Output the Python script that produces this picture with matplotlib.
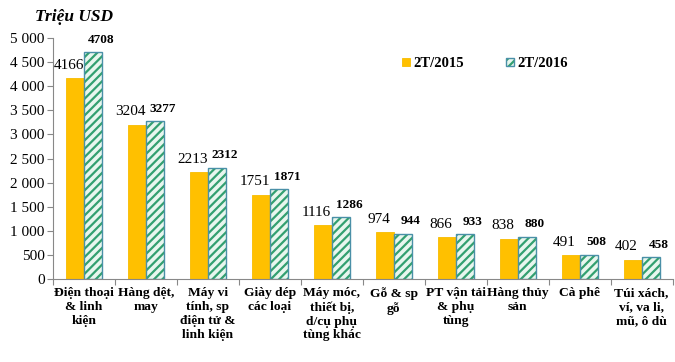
import matplotlib.pyplot as plt
import numpy as np

plt.rcParams['font.family'] = ['Liberation Serif', 'DejaVu Serif']
plt.rcParams['hatch.linewidth'] = 1.6

categories = ["Điện thoại\n& linh\nkiện", "Hàng dệt,\nmay", "Máy vi\ntính, sp\nđiện tử &\nlinh kiện",
              "Giày dép\ncác loại", "Máy móc,\nthiết bị,\nd/cụ phụ\ntùng khác", "Gỗ & sp\ngỗ",
              "PT vận tải\n& phụ\ntùng", "Hàng thủy\nsản", "Cà phê", "Túi xách,\nví, va li,\nmũ, ô dù"]
v2015 = [4166, 3204, 2213, 1751, 1116, 974, 866, 838, 491, 402]
v2016 = [4708, 3277, 2312, 1871, 1286, 944, 933, 880, 508, 458]
yticks = [0, 500, 1000, 1500, 2000, 2500, 3000, 3500, 4000, 4500, 5000]


def main():
   fig = plt.figure(figsize=(6.75, 3.62), dpi=100)
   ax = fig.add_axes([0.0785, 0.229, 0.918, 0.666])
   x = np.arange(len(categories))
   w = 0.29

   b1 = ax.bar(x - w / 2, v2015, w, color="#FFC000", edgecolor="#F7BC00", linewidth=0.6)
   # hatch takes the edge colour, so draw the outline separately
   b2 = ax.bar(x + w / 2, v2016, w, color="#E8F6EE", edgecolor="#33A070", linewidth=0, hatch="////")
   b2o = ax.bar(x + w / 2, v2016, w, fill=False, edgecolor="#4A90A8", linewidth=1.0)

   for xi, v in zip(x, v2015):
      ax.text(xi - w / 2 - 0.1, v + 130, str(v), ha="center", va="bottom", fontsize=11)
   for xi, v in zip(x, v2016):
      ax.text(xi + w / 2 + 0.13, v + 130, str(v), ha="center", va="bottom", fontsize=9.5, fontweight="bold")

   ax.set_xlim(-0.5, len(categories) - 0.5)
   ax.set_ylim(0, 5000)
   ax.set_yticks(yticks)
   ax.set_yticklabels([f"{t:,}".replace(",", " ") for t in yticks], fontsize=11)
   ax.set_xticks(np.arange(len(categories) + 1) - 0.5)
   ax.set_xticklabels([])
   ax.set_xticks(x, minor=True)
   ax.set_xticklabels(categories, minor=True, fontsize=9.7, fontweight="bold", linespacing=1.2)
   ax.tick_params(axis="x", which="minor", length=0, pad=6)
   ax.tick_params(axis="x", which="major", length=4, color="#888888")
   ax.tick_params(axis="y", length=4, color="#888888", pad=2)
   for s in ["top", "right"]:
      ax.spines[s].set_visible(False)
   ax.spines["left"].set_color("#888888")
   ax.spines["bottom"].set_color("#888888")

   fig.text(0.052, 0.953, "Triệu USD", fontsize=12.5, fontweight="bold", style="italic", ha="left", va="center")

   ax.legend([b1, (b2, b2o)], ["2T/2015", "2T/2016"], loc="upper left", bbox_to_anchor=(0.564, 0.92),
             ncol=2, frameon=False, borderaxespad=0, borderpad=0,
             prop={"weight": "bold", "size": 10.5}, handlelength=0.5, handleheight=0.5,
             handletextpad=0.25, columnspacing=2.9)

   fig.savefig("out.png", dpi=100)


if __name__ == "__main__":
   main()
